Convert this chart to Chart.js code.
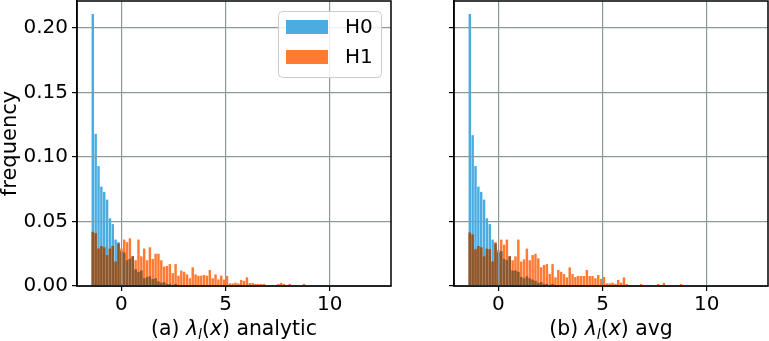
<!DOCTYPE html>
<html>
<head>
  <meta charset="UTF-8">
  <title>H0 / H1 histograms</title>
  <script src="https://cdn.jsdelivr.net/npm/chart.js@4.4.1/dist/chart.umd.min.js"></script>
  <style>
    body { margin: 0; background: #fff; }
    #wrap { position: relative; width: 769px; height: 341px; font-family: "DejaVu Sans", sans-serif; }
    canvas { position: absolute; top: 0; }
    .xlab { position: absolute; top: 315px; height: 26px; line-height: 26px; font-size: 20.4px;
            text-align: center; color: #000; white-space: nowrap; }
    .xlab i { font-style: italic; }
    .xlab sub { font-size: 14px; line-height: 0; vertical-align: -4px; font-style: italic; }
  </style>
  <script>
    // histogram bins: 100 bins of equal width starting at binStart
    var binStart = -1.44;
    var binWidth = 0.137;

    var xTicks = [0, 5, 10];
    var yTicks = [0, 0.05, 0.10, 0.15, 0.20];
    var yTickLabels = ["0.00", "0.05", "0.10", "0.15", "0.20"];
    var seriesNames = ["H0", "H1"];
    var panelTitles = [
      "(a) <i>λ</i><sub>l</sub>(<i>x</i>) analytic",
      "(b) <i>λ</i><sub>l</sub>(<i>x</i>) avg"
    ];

    // (a) analytic
    var h0Analytic = [
      0.211, 0.118, 0.093, 0.077, 0.073, 0.067, 0.0525, 0.048, 0.036, 0.034,
      0.027, 0.026, 0.020, 0.021, 0.023, 0.013, 0.011, 0.012, 0.006, 0.007,
      0.0075, 0.0055, 0.006, 0.0035, 0.0025, 0.003, 0.0016, 0.0016, 0.0008, 0.0016,
      0.0008, 0.0008, 0, 0, 0, 0, 0, 0, 0, 0,
      0, 0, 0, 0, 0, 0, 0, 0, 0, 0,
      0, 0, 0, 0, 0, 0, 0, 0, 0, 0,
      0, 0, 0, 0, 0, 0, 0, 0, 0, 0,
      0, 0, 0, 0, 0, 0, 0, 0, 0, 0,
      0, 0, 0, 0, 0, 0, 0, 0, 0, 0,
      0, 0, 0, 0, 0, 0, 0, 0, 0, 0
    ];
    var h1Analytic = [
      0.042, 0.041, 0.029, 0.031, 0.030, 0.024, 0.029, 0.031, 0.019, 0.033,
      0.029, 0.036, 0.034, 0.037, 0.023, 0.020, 0.036, 0.023, 0.029, 0.020,
      0.030, 0.021, 0.025, 0.025, 0.020, 0.015, 0.0155, 0.017, 0.010, 0.017,
      0.008, 0.012, 0.011, 0.009, 0.006, 0.0145, 0.009, 0.008, 0.008, 0.0085,
      0.008, 0.0125, 0.006, 0.009, 0.005, 0.008, 0.005, 0.0078, 0.002, 0.002,
      0.0026, 0.002, 0.0047, 0.004, 0.0067, 0.0023, 0.0023, 0.0016, 0.0016, 0.0016,
      0.0016, 0.0008, 0, 0, 0, 0.0016, 0.0024, 0.0016, 0.0008, 0.0016,
      0, 0, 0.0008, 0, 0.0016, 0, 0, 0.0008, 0.0008, 0,
      0.0008, 0, 0.0008, 0, 0, 0, 0, 0.0008, 0, 0,
      0, 0, 0.0008, 0, 0, 0, 0.0008, 0, 0, 0.0008
    ];

    // (b) avg
    var h0Avg = [
      0.211, 0.117, 0.093, 0.077, 0.073, 0.067, 0.0525, 0.048, 0.036, 0.033,
      0.026, 0.027, 0.021, 0.020, 0.023, 0.012, 0.012, 0.011, 0.007, 0.006,
      0.0075, 0.006, 0.005, 0.004, 0.0025, 0.003, 0.0016, 0.0016, 0.0008, 0.0016,
      0.0008, 0.0008, 0, 0, 0, 0, 0, 0, 0, 0,
      0, 0, 0, 0, 0, 0, 0, 0, 0, 0,
      0, 0, 0, 0, 0, 0, 0, 0, 0, 0,
      0, 0, 0, 0, 0, 0, 0, 0, 0, 0,
      0, 0, 0, 0, 0, 0, 0, 0, 0, 0,
      0, 0, 0, 0, 0, 0, 0, 0, 0, 0,
      0, 0, 0, 0, 0, 0, 0, 0, 0, 0
    ];
    var h1Avg = [
      0.0415, 0.040, 0.0285, 0.031, 0.030, 0.023, 0.029, 0.0285, 0.019, 0.034,
      0.028, 0.036, 0.032, 0.036, 0.023, 0.020, 0.023, 0.036, 0.019, 0.0207,
      0.029, 0.020, 0.024, 0.025, 0.0215, 0.0145, 0.0163, 0.017, 0.0093, 0.017,
      0.0067, 0.0124, 0.011, 0.0093, 0.0067, 0.0145, 0.0093, 0.007, 0.0078, 0.0078,
      0.0078, 0.0124, 0.0078, 0.0078, 0.006, 0.0085, 0.0055, 0.007, 0.002, 0.002,
      0.0026, 0.0016, 0.0047, 0.0026, 0.0067, 0.0016, 0.0008, 0.0008, 0.0008, 0,
      0.0016, 0, 0, 0, 0, 0.0008, 0.0016, 0, 0.0024, 0.0008,
      0, 0, 0.0008, 0, 0.0016, 0, 0, 0.0008, 0, 0.0008,
      0.0008, 0, 0, 0, 0, 0, 0, 0.0008, 0, 0,
      0, 0, 0.0008, 0, 0, 0.0008, 0, 0, 0, 0.0008
    ];

    var blue = "rgb(74,172,224)";
    var orange = "rgb(255,122,51)";
    var brown = "rgb(139,88,46)";
    var gridColor = "#8a9a9a";

    function toPoints(arr) {
      return arr.map(function(v, i) { return { x: binStart + binWidth * (i + 0.5), y: v }; });
    }
    // where both histograms overlap the colours mix into brown
    function overlap(a, b) {
      return a.map(function(v, i) { return Math.min(v, b[i]); });
    }

    var framePlugin = {
      id: "frame",
      afterDraw: function(chart) {
        var a = chart.chartArea, c = chart.ctx;
        c.save();
        c.strokeStyle = "#000";
        c.lineWidth = 1.5;
        c.strokeRect(a.left, a.top, a.right - a.left, a.bottom - a.top);
        c.restore();
      }
    };

    // matplotlib-like legend box inside the top right corner of the plot
    var boxLegendPlugin = {
      id: "boxLegend",
      afterDraw: function(chart) {
        var a = chart.chartArea, c = chart.ctx;
        var w = 103, h = 66;
        var x0 = a.right - 10 - w, y0 = a.top + 10;
        c.save();
        c.beginPath();
        if (c.roundRect) c.roundRect(x0 + 0.5, y0 + 0.5, w, h, 4); else c.rect(x0 + 0.5, y0 + 0.5, w, h);
        c.fillStyle = "rgba(255,255,255,0.85)";
        c.fill();
        c.strokeStyle = "#cccccc";
        c.lineWidth = 1;
        c.stroke();
        var items = chart.data.datasets.filter(function(d) { return d.inLegend; });
        c.font = '20px "DejaVu Sans"';
        c.textBaseline = "middle";
        c.fillStyle = "#000";
        items.forEach(function(d, i) {
          var cy = y0 + 16 + i * 30;
          c.fillStyle = d.backgroundColor;
          c.fillRect(x0 + 8, cy - 7, 42, 14);
          c.fillStyle = "#000";
          c.fillText(d.label, x0 + 67, cy + 1);
        });
        c.restore();
      }
    };

    function makeChart(id, h0, h1, showY, axisWidth, rightPad, withLegend) {
      var plugins = [framePlugin];
      if (withLegend) plugins.push(boxLegendPlugin);
      var axisGrid = { color: gridColor, lineWidth: 1.2, tickColor: "#000", tickLength: 5, tickWidth: 1.2, offset: false, z: 1 };
      var axisBorder = { display: true, color: "#000", width: 1.5, z: 1 };
      return new Chart(document.getElementById(id), {
        type: "bar",
        data: {
          datasets: [
            { label: seriesNames[0], data: toPoints(h0), backgroundColor: blue, order: 3, inLegend: true },
            { label: seriesNames[1], data: toPoints(h1), backgroundColor: orange, order: 2, inLegend: true },
            { label: "overlap", data: toPoints(overlap(h0, h1)), backgroundColor: brown, order: 1 }
          ]
        },
        options: {
          responsive: false,
          animation: false,
          devicePixelRatio: 1,
          layout: { padding: { top: 1, right: rightPad, left: 0, bottom: 0 } },
          datasets: { bar: { grouped: false, categoryPercentage: 1, barPercentage: 0.86, borderWidth: 0 } },
          plugins: { legend: { display: false }, tooltip: { enabled: false } },
          scales: {
            x: {
              type: "linear", min: -2.13, max: 12.94, offset: false,
              afterBuildTicks: function(s) { s.ticks = xTicks.map(function(v) { return { value: v }; }); },
              afterFit: function(s) { s.height = 55; s.paddingLeft = 0; s.paddingRight = 0; },
              ticks: { color: "#000", font: { size: 20 }, padding: 2, maxRotation: 0, autoSkip: false },
              grid: axisGrid,
              border: axisBorder
            },
            y: {
              min: 0, max: 0.221,
              afterBuildTicks: function(s) { s.ticks = yTicks.map(function(v) { return { value: v }; }); },
              afterFit: function(s) { s.width = axisWidth; s.paddingTop = 0; s.paddingBottom = 0; },
              ticks: {
                display: showY, color: "#000", font: { size: 20 }, padding: 4, autoSkip: false,
                callback: function(v, i) { return yTickLabels[i]; }
              },
              grid: axisGrid,
              border: axisBorder,
              title: { display: showY, text: "frequency", color: "#000", font: { size: 21, lineHeight: 1.0 }, padding: 0 }
            }
          }
        },
        plugins: plugins
      });
    }

    function init() {
      Chart.defaults.font.family = '"DejaVu Sans", sans-serif';
      makeChart("chartA", h0Analytic, h1Analytic, true, 77, 9, true);
      makeChart("chartB", h0Avg, h1Avg, false, 54, 1, false);
      document.getElementById("labA").innerHTML = panelTitles[0];
      document.getElementById("labB").innerHTML = panelTitles[1];
    }
  </script>
</head>
<body onload="init()">
<div id="wrap">
  <canvas id="chartA" width="400" height="341" style="left:0px"></canvas>
  <canvas id="chartB" width="369" height="341" style="left:400px"></canvas>
  <div id="labA" class="xlab" style="left:77px; width:314px"></div>
  <div id="labB" class="xlab" style="left:454px; width:314px"></div>
</div>
</body>
</html>
